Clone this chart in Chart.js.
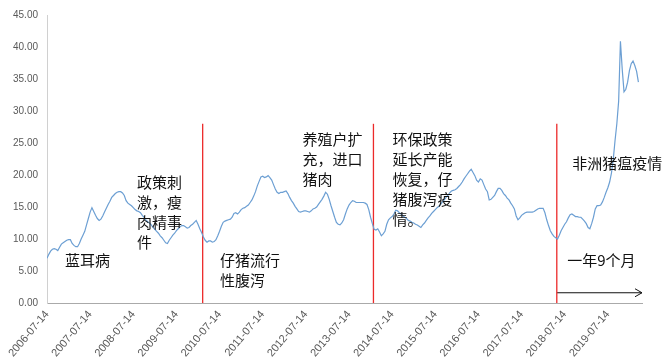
<!DOCTYPE html>
<html lang="zh">
<head>
<meta charset="utf-8">
<title>生猪价格走势</title>
<script src="https://cdn.jsdelivr.net/npm/chart.js@4/dist/chart.umd.min.js"></script>
<style>
  html, body { margin: 0; padding: 0; background: #fff; }
  canvas { display: block; }
</style>
</head>
<body>
<canvas id="price-chart" width="663" height="358"></canvas>
<script>
// half-monthly hog price (yuan/kg), first value is 2006-07-14
const prices = [
  7.0, 7.6, 8.1, 8.4, 8.5, 8.4, 8.2, 8.7, 9.2, 9.4, 9.6, 9.8, 9.9, 9.9, 9.3, 9.0, 8.8, 8.8, 9.3, 10.0, 10.6, 11.2, 12.2, 13.2,
  14.2, 14.9, 14.3, 13.7, 13.2, 12.9, 13.1, 13.6, 14.2, 14.8, 15.4, 15.9, 16.5, 16.8, 17.1, 17.3, 17.4, 17.4, 17.2, 16.8, 16.0, 15.6, 15.4, 15.2,
  14.9, 14.6, 14.4, 14.3, 14.1, 13.7, 13.4, 13.0, 12.7, 12.5, 12.2, 11.8, 11.5, 11.2, 10.9, 10.5, 10.2, 9.8, 9.4, 9.3, 9.8, 10.2, 10.6, 10.9,
  11.3, 11.6, 11.9, 12.1, 12.1, 11.9, 11.7, 11.8, 12.1, 12.3, 12.6, 12.9, 12.3, 11.6, 11.0, 10.3, 9.8, 9.5, 9.7, 9.7, 9.5, 9.6, 9.9, 10.5,
  11.2, 12.0, 12.6, 12.8, 12.9, 13.0, 13.1, 13.4, 14.0, 14.1, 13.9, 14.2, 14.6, 14.8, 14.9, 15.1, 15.3, 15.7, 16.1, 16.7, 17.4, 18.3, 19.0, 19.7,
  19.8, 19.6, 19.7, 19.9, 19.6, 19.2, 18.5, 17.8, 17.3, 17.1, 17.3, 17.3, 17.4, 17.5, 17.1, 16.5, 16.0, 15.6, 15.1, 14.7, 14.3, 14.2, 14.3, 14.4,
  14.4, 14.3, 14.2, 14.4, 14.7, 14.8, 15.0, 15.4, 15.8, 16.2, 16.7, 17.3, 17.0, 16.2, 15.2, 14.3, 13.4, 12.6, 12.3, 12.2, 12.5, 13.0, 13.9, 14.7,
  15.3, 15.7, 16.0, 15.9, 15.7, 15.7, 15.7, 15.7, 15.7, 15.6, 15.4, 14.6, 13.4, 12.4, 11.5, 11.4, 11.6, 11.1, 10.5, 10.8, 11.2, 12.3, 13.0, 13.3,
  13.5, 13.9, 14.5, 14.4, 14.1, 13.9, 13.6, 13.4, 13.2, 12.9, 12.8, 12.6, 12.5, 12.3, 12.2, 12.0, 11.8, 12.2, 12.5, 12.9, 13.3, 13.6, 14.0, 14.3,
  14.6, 14.9, 15.1, 15.4, 15.8, 16.1, 16.5, 16.8, 17.2, 17.5, 17.6, 17.7, 17.9, 18.2, 18.5, 18.9, 19.4, 19.8, 20.2, 20.6, 20.9, 20.4, 19.9, 19.2,
  18.9, 19.4, 19.2, 18.5, 17.8, 17.4, 16.1, 16.2, 16.5, 16.8, 17.4, 17.9, 17.9, 17.6, 17.1, 16.8, 16.4, 16.1, 15.6, 15.2, 14.7, 13.6, 13.0, 13.3,
  13.7, 13.9, 14.1, 14.2, 14.2, 14.2, 14.2, 14.3, 14.5, 14.7, 14.8, 14.8, 14.8, 14.1, 13.0, 12.1, 11.3, 10.8, 10.4, 10.2, 10.0, 10.6, 11.3, 11.8,
  12.3, 12.7, 13.3, 13.8, 13.9, 13.7, 13.5, 13.5, 13.4, 13.4, 13.1, 12.8, 12.4, 11.8, 11.6, 12.4, 13.4, 14.7, 15.2, 15.2, 15.3, 15.8, 16.5, 17.3,
  18.0, 18.9, 20.3, 22.4, 25.4, 28.0, 31.5, 40.9, 36.5, 33.0, 33.4, 34.5, 36.3, 37.4, 37.8, 37.1, 36.2, 34.5
];

const yearLabels = [
  '2006-07-14', '2007-07-14', '2008-07-14', '2009-07-14', '2010-07-14', '2011-07-14', '2012-07-14',
  '2013-07-14', '2014-07-14', '2015-07-14', '2016-07-14', '2017-07-14', '2018-07-14', '2019-07-14'
];

// months after 2006-07-14 where the red markers sit
const eventMonths = [43.3, 90.8, 141.8];
const eventTop = 28;

// "一年9个月" span
const spanStart = 141.8;
const spanEnd = 165.5;
const spanLevel = 1.6;

const notes = [
  { lines: ['蓝耳病'], month: 5.0, value: 6.6 },
  { lines: ['政策刺', '激，瘦', '肉精事', '件'], month: 25.0, value: 18.9 },
  { lines: ['仔猪流行', '性腹泻'], month: 48.1, value: 6.6 },
  { lines: ['养殖户扩', '充，进口', '猪肉'], month: 71.1, value: 25.6 },
  { lines: ['环保政策', '延长产能', '恢复，仔', '猪腹泻疫', '情。'], month: 96.1, value: 25.6 },
  { lines: ['非洲猪瘟疫情'], month: 146.1, value: 21.9 },
  { lines: ['一年9个月'], month: 144.7, value: 6.6 },
];

const priceCtx = document.getElementById('price-chart');

const eventSets = eventMonths.map((m) => ({
  data: [{ x: m, y: 0 }, { x: m, y: eventTop }],
  borderColor: '#ec2a2a',
  borderWidth: 1.3,
  pointRadius: 0,
}));

const notesPlugin = {
  id: 'notes',
  afterDatasetsDraw(chart) {
    const { ctx, scales: { x, y } } = chart;
    ctx.save();
    ctx.font = '15px "Noto Sans CJK SC", sans-serif';
    ctx.fillStyle = '#111';
    ctx.textBaseline = 'middle';
    ctx.textAlign = 'left';
    notes.forEach((n) => {
      const left = x.getPixelForValue(n.month);
      const top = y.getPixelForValue(n.value);
      n.lines.forEach((line, k) => ctx.fillText(line, left, top + k * 20));
    });

    // arrow head at the end of the span
    const tipX = x.getPixelForValue(spanEnd);
    const tipY = y.getPixelForValue(spanLevel);
    ctx.strokeStyle = '#111';
    ctx.lineWidth = 1;
    ctx.beginPath();
    ctx.moveTo(tipX - 7, tipY - 4);
    ctx.lineTo(tipX, tipY);
    ctx.lineTo(tipX - 7, tipY + 4);
    ctx.stroke();
    ctx.restore();
  },
};

const priceChart = new Chart(priceCtx, {
  type: 'line',
  data: {
    datasets: [
      {
        label: '生猪价格',
        data: prices.map((p, i) => ({ x: i / 2, y: p })),
        borderColor: '#6c9fd3',
        borderWidth: 1.2,
        pointRadius: 0,
        tension: 0,
      },
      ...eventSets,
      {
        data: [{ x: spanStart, y: spanLevel }, { x: spanEnd, y: spanLevel }],
        borderColor: '#111',
        borderWidth: 1,
        pointRadius: 0,
      },
    ],
  },
  options: {
    responsive: false,
    animation: false,
    layout: { padding: { top: 13, right: 21, left: 0, bottom: 0 } },
    plugins: { legend: { display: false }, tooltip: { enabled: false } },
    scales: {
      x: {
        type: 'linear',
        min: 0,
        max: 165.5,
        grid: { display: false, drawTicks: false },
        border: { color: '#aaaaaa', width: 1 },
        afterFit: (scale) => { scale.height = 55; },
        afterBuildTicks: (scale) => {
          scale.ticks = yearLabels.map((_, k) => ({ value: k * 12 }));
        },
        ticks: {
          minRotation: 50,
          maxRotation: 50,
          padding: 5,
          color: '#595959',
          font: { family: '"Liberation Sans", Arial, sans-serif', size: 11 },
          callback: (v) => yearLabels[Math.round(v / 12)],
        },
      },
      y: {
        min: 0,
        max: 45,
        grid: { display: false, drawTicks: false },
        border: { color: '#d0d0d0', width: 1 },
        afterFit: (scale) => { scale.width = 47; },
        ticks: {
          stepSize: 5,
          padding: 9,
          color: '#595959',
          font: { family: '"Liberation Sans", Arial, sans-serif', size: 10 },
          callback: (v) => v.toFixed(2),
        },
      },
    },
  },
  plugins: [notesPlugin],
});
</script>
</body>
</html>
